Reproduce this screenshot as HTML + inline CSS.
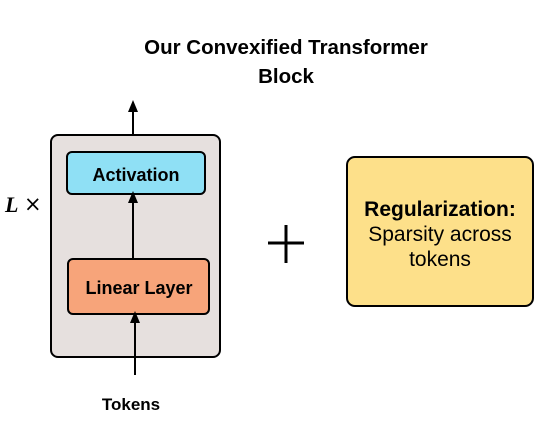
<!DOCTYPE html>
<html><head><meta charset="utf-8"><style>
body{margin:0;width:553px;height:424px;background:#fff;overflow:hidden;font-family:"Liberation Sans",sans-serif}
</style></head><body>
<svg width="553" height="424" xmlns="http://www.w3.org/2000/svg">
<defs><marker id="a" markerWidth="12" markerHeight="12" refX="6" refY="6" orient="auto" markerUnits="userSpaceOnUse"><path d="M0,1 L12,6 L0,11 Z" fill="#000"/></marker></defs>
<text x="286" y="54" text-anchor="middle" font-size="20.5" font-weight="bold" font-family="Liberation Sans,sans-serif">Our Convexified Transformer</text>
<text x="286" y="83" text-anchor="middle" font-size="20.5" font-weight="bold" font-family="Liberation Sans,sans-serif">Block</text>
<rect x="51" y="135" width="169" height="222" rx="7" fill="#e6e0de" stroke="#000" stroke-width="2"/>
<rect x="67" y="152" width="138" height="42" rx="5" fill="#8fe0f5" stroke="#000" stroke-width="2"/>
<text x="136" y="181" text-anchor="middle" font-size="18" font-weight="bold">Activation</text>
<rect x="68" y="259" width="141" height="55" rx="5" fill="#f7a47a" stroke="#000" stroke-width="2"/>
<text x="139" y="294" text-anchor="middle" font-size="18" font-weight="bold">Linear Layer</text>
<line x1="133" y1="135" x2="133" y2="106" stroke="#000" stroke-width="2" marker-end="url(#a)"/>
<line x1="133" y1="259" x2="133" y2="197" stroke="#000" stroke-width="2" marker-end="url(#a)"/>
<line x1="135" y1="375" x2="135" y2="317" stroke="#000" stroke-width="2" marker-end="url(#a)"/>
<text x="131" y="410" text-anchor="middle" font-size="17" font-weight="bold">Tokens</text>
<text x="5" y="212" font-size="22" font-style="italic" font-weight="bold" font-family="Liberation Serif,serif">L</text>
<text x="24" y="211" font-size="21" font-family="DejaVu Sans,sans-serif">×</text>
<line x1="268" y1="243" x2="304" y2="243" stroke="#000" stroke-width="3"/>
<line x1="286" y1="225" x2="286" y2="263" stroke="#000" stroke-width="3"/>
<rect x="347" y="157" width="186" height="149" rx="8" fill="#fde08a" stroke="#000" stroke-width="2"/>
<text x="440" y="216" text-anchor="middle" font-size="21" font-weight="bold">Regularization:</text>
<text x="440" y="241" text-anchor="middle" font-size="21">Sparsity across</text>
<text x="440" y="266" text-anchor="middle" font-size="21">tokens</text>
</svg>
</body></html>
